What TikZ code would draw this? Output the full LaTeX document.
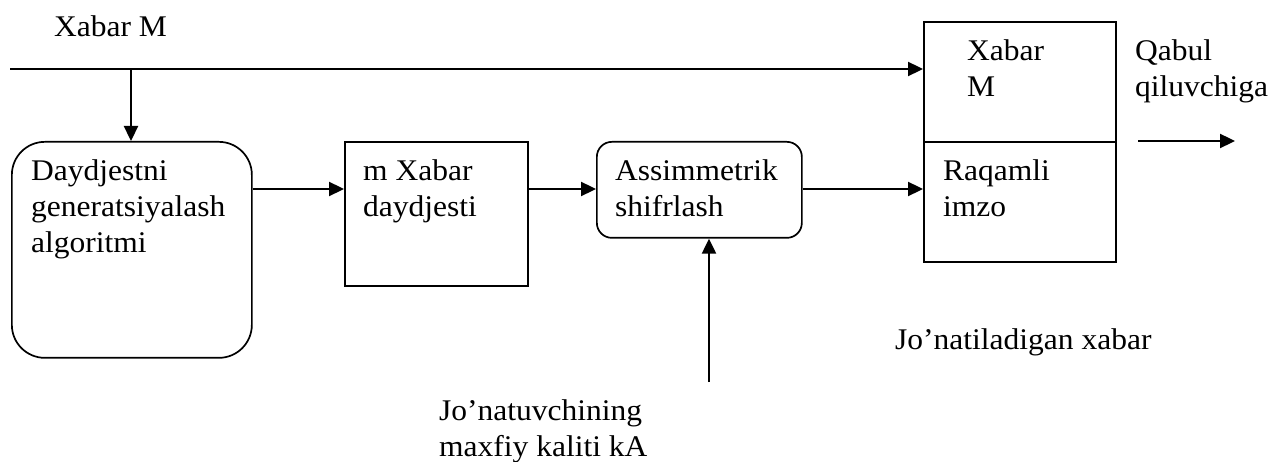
\documentclass[tikz,border=0pt]{standalone}
\usepackage{fontspec}
\setmainfont{Liberation Serif}[FakeStretch=1.05]
\usetikzlibrary{arrows.meta,positioning}

\begin{document}
\begin{tikzpicture}[x=1pt,y=-1pt,font=\fontsize{30}{36}\selectfont,>={Triangle[length=15pt,width=14pt]},box/.style={draw, line width=1.7pt, inner sep=0pt, anchor=north west},txt/.style={anchor=north west, align=left, inner sep=0pt},arrow/.style={->, line width=2.3pt}]
\useasboundingbox (0,0) rectangle (1272,462);
\node[anchor=base west, inner sep=0pt] (msg) at (54,37) {Xabar M};
\coordinate (start) at (10,69);
\coordinate (tap) at (131,69);
\node[box, rounded corners=33pt, minimum width=240pt, minimum height=216pt] (gen) at (11,141) {};
\node[txt] (gentxt) at (31,159.5) {Daydjestni\\generatsiyalash\\algoritmi};
\node[box, minimum width=183pt, minimum height=144pt] (dig) at (344,141) {};
\node[txt] (digtxt) at (363,159.5) {m Xabar\\daydjesti};
\node[box, rounded corners=15pt, minimum width=205pt, minimum height=96pt] (enc) at (596,141) {};
\node[txt] (enctxt) at (615,159.5) {Assimmetrik\\shifrlash};
\node[box, minimum width=192pt, minimum height=120pt] (top) at (923,21) {};
\node[txt] (toptxt) at (967,39.5) {Xabar\\M};
\node[box, minimum width=192pt, minimum height=120pt] (sig) at (923,141) {};
\node[txt] (sigtxt) at (943,159.5) {Raqamli\\imzo};
\node[txt] (recv) at (1135,39.5) {Qabul\\qiluvchiga};
\coordinate (out0) at (1138,141);
\coordinate (out1) at (1235,141);
\node[anchor=base west, inner sep=0pt] (sent) at (895,349) {Jo’natiladigan xabar};
\coordinate (key) at (709,382);
\node[txt] (keytxt) at (439,399.5) {Jo’natuvchining\\maxfiy kaliti kA};
% connectors
\draw[line width=2.3pt] (start) -- (tap);
\draw[arrow] (tap) -- (top.west |- tap);
\draw[arrow] (tap) -- (tap |- gen.north);
\draw[arrow] (gen.east |- 0,189) -- (dig.west |- 0,189);
\draw[arrow] (dig.east |- 0,189) -- (enc.west |- 0,189);
\draw[arrow] (enc.east |- 0,189) -- (sig.west |- 0,189);
\draw[arrow] (key) -- (key |- enc.south);
\draw[arrow] (out0) -- (out1);
\end{tikzpicture}
\end{document}
